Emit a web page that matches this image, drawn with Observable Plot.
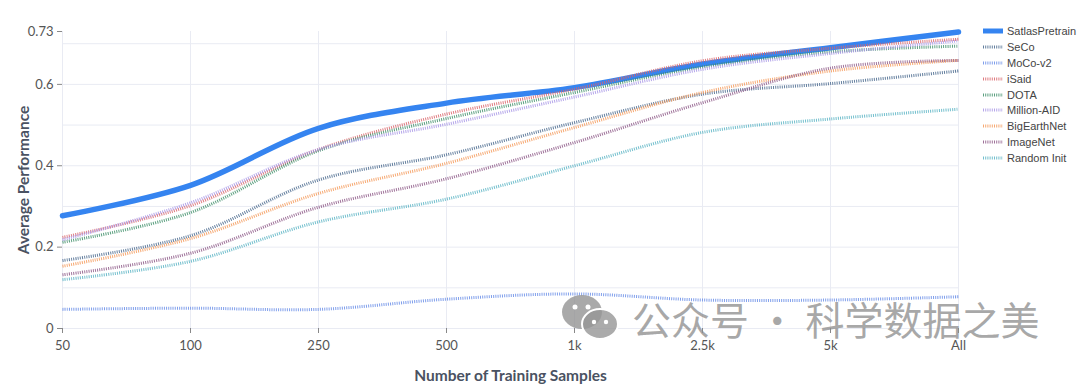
<!DOCTYPE html>
<html>
<head>
<meta charset="utf-8">
<script src="https://cdn.jsdelivr.net/npm/d3@7"></script>
<script src="https://cdn.jsdelivr.net/npm/@observablehq/plot@0.6"></script>
<style>
  html, body { margin: 0; padding: 0; background: #fff; }
  #wrap { position: relative; width: 1080px; height: 392px; overflow: hidden; }
  #chart svg { font-family: Lato, "Open Sans", sans-serif; }
  #chart [aria-label="x-axis label"] text, #chart [aria-label="y-axis label"] text { font-weight: bold; font-size: 15.5px; fill: #4a5262; }
  #legend { position: absolute; left: 983px; top: 23px; font-family: "Liberation Sans", Arial, sans-serif; font-size: 11px; color: #444; }
  #legend .row { height: 15.9px; display: flex; align-items: center; white-space: nowrap; }
  #legend svg { margin-right: 4px; }
  #wm { position: absolute; left: 560px; top: 292px; display: flex; align-items: center; pointer-events: none; }
  #wm span { font-family: "Noto Sans CJK SC", sans-serif; font-size: 39px; color: rgba(140,140,140,0.75); line-height: 1; }
</style>
</head>
<body>
<div id="wrap">
  <div id="chart"></div>
  <div id="legend"></div>
  <div id="wm">
    <svg width="62" height="52" viewBox="0 0 62 52">
      <ellipse cx="22" cy="20" rx="20" ry="17" fill="rgba(140,140,140,0.75)"/>
      <ellipse cx="40" cy="32" rx="18" ry="15" fill="rgba(150,150,150,0.8)" stroke="#fff" stroke-width="2"/>
      <circle cx="15" cy="15" r="2.5" fill="#fff"/><circle cx="28" cy="15" r="2.5" fill="#fff"/>
      <circle cx="34" cy="30" r="2.2" fill="#fff"/><circle cx="46" cy="30" r="2.2" fill="#fff"/>
    </svg>
    <span style="margin-left:10px">公众号 · 科学数据之美</span>
  </div>
</div>
<script>
const categories = ["50", "100", "250", "500", "1k", "2.5k", "5k", "All"];
const seriesNames = ["SatlasPretrain", "SeCo", "MoCo-v2", "iSaid", "DOTA", "Million-AID", "BigEarthNet", "ImageNet", "Random Init"];
const seriesColors = ["#3584f0", "#4a6a8e", "#6a8ee8", "#d9656b", "#3f8f6a", "#a896e6", "#f59a5a", "#8e5a88", "#5ab4c4"];
const satlas   = [0.277, 0.352, 0.492, 0.554, 0.592, 0.650, 0.690, 0.729];
const seco     = [0.167, 0.228, 0.365, 0.427, 0.506, 0.576, 0.602, 0.633];
const moco     = [0.047, 0.050, 0.047, 0.072, 0.085, 0.070, 0.070, 0.078];
const isaid    = [0.224, 0.302, 0.440, 0.527, 0.588, 0.658, 0.689, 0.711];
const dota     = [0.212, 0.285, 0.437, 0.516, 0.580, 0.643, 0.680, 0.694];
const million  = [0.218, 0.309, 0.440, 0.502, 0.569, 0.637, 0.676, 0.707];
const bigearth = [0.153, 0.221, 0.332, 0.406, 0.494, 0.580, 0.633, 0.659];
const imagenet = [0.132, 0.185, 0.298, 0.368, 0.457, 0.555, 0.640, 0.659];
const random   = [0.120, 0.165, 0.262, 0.318, 0.400, 0.482, 0.515, 0.539];
const yTicks = [0, 0.2, 0.4, 0.6, 0.73];
const yGrid = [0.1, 0.2, 0.3, 0.4, 0.5, 0.6, 0.7];

const seriesValues = [satlas, seco, moco, isaid, dota, million, bigearth, imagenet, random];
const rows = [];
seriesNames.forEach((name, i) => {
  categories.forEach((c, j) => rows.push({series: name, idx: i, x: c, y: seriesValues[i][j]}));
});

const lineMarks = seriesNames.map((name, i) =>
  Plot.line(rows.filter(r => r.series === name), {
    x: "x", y: "y",
    stroke: seriesColors[i],
    strokeWidth: i === 0 ? 5.5 : 3,
    strokeDasharray: i === 0 ? undefined : "1 1.2",
    strokeLinecap: i === 0 ? "round" : "butt",
    strokeOpacity: i === 0 ? 1 : 0.85,
    curve: "catmull-rom"
  })
);

const chart = Plot.plot({
  width: 1080,
  height: 392,
  marginLeft: 62,
  marginRight: 122,
  marginTop: 31,
  marginBottom: 64,
  style: {fontSize: "13px", color: "#555", background: "#fff"},
  x: {type: "point", domain: categories, padding: 0},
  y: {domain: [0, 0.73]},
  marks: [
    Plot.ruleY(yGrid, {stroke: "#e9ebf3", strokeWidth: 1}),
    Plot.ruleX(categories, {stroke: "#e9ebf3", strokeWidth: 1}),
    Plot.ruleY([0], {stroke: "#e9ebf3", strokeWidth: 1}),
    Plot.axisX({tickSize: 5, tickPadding: 7, stroke: "#888", fill: "#555", label: "Number of Training Samples", labelAnchor: "center", labelArrow: "none", labelOffset: 52}),
    Plot.axisY({ticks: yTicks, tickSize: 5, tickPadding: 4, stroke: "#888", fill: "#555", tickFormat: d => d === 0 ? "0" : String(d), label: "Average Performance", labelAnchor: "center", labelArrow: "none", labelOffset: 45}),
    ...lineMarks
  ]
});
document.getElementById("chart").appendChild(chart);

const legend = document.getElementById("legend");
seriesNames.forEach((name, i) => {
  const row = document.createElement("div");
  row.className = "row";
  const ns = "http://www.w3.org/2000/svg";
  const s = document.createElementNS(ns, "svg");
  s.setAttribute("width", "20"); s.setAttribute("height", "8");
  const l = document.createElementNS(ns, "line");
  l.setAttribute("x1", "0"); l.setAttribute("x2", "20"); l.setAttribute("y1", "4"); l.setAttribute("y2", "4");
  l.setAttribute("stroke", seriesColors[i]);
  l.setAttribute("stroke-width", i === 0 ? "5" : "3");
  if (i !== 0) { l.setAttribute("stroke-dasharray", "1,1.2"); l.setAttribute("stroke-opacity", "0.85"); }
  s.appendChild(l);
  row.appendChild(s);
  const t = document.createElement("span");
  t.textContent = name;
  row.appendChild(t);
  legend.appendChild(row);
});
</script>
</body>
</html>
